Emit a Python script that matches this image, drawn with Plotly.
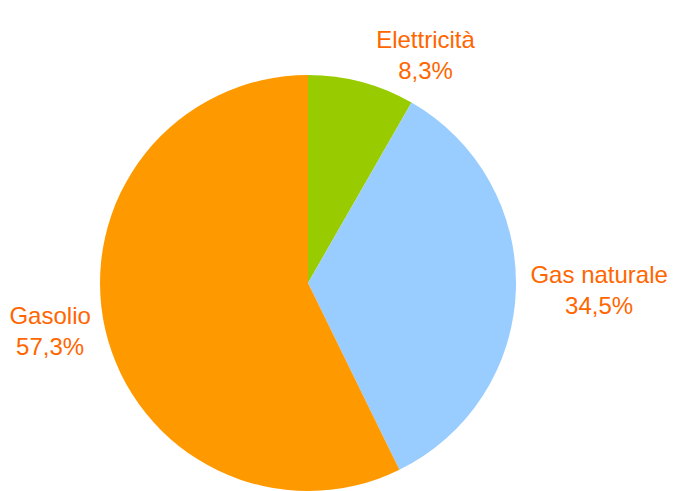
import plotly.graph_objects as go

labels = ["Elettricità", "Gas naturale", "Gasolio"]
values = [8.3, 34.5, 57.3]
colors = ["#99CC00", "#99CCFF", "#FF9900"]

W, H = 673, 491
cx = 308
half = 0.36
fig = go.Figure(go.Pie(
    labels=labels,
    values=values,
    sort=False,
    direction="clockwise",
    rotation=0,
    marker=dict(colors=colors, line=dict(width=0)),
    textposition="outside",
    texttemplate="%{label}<br>%{value:.1f}%",
    textfont=dict(color="#FF6600", size=24, family="Arial, Liberation Sans, sans-serif"),
    showlegend=False,
    hoverinfo="label+value",
    domain=dict(x=[cx / W - half, cx / W + half], y=[0, 1]),
    automargin=False,
))
fig.update_layout(
    width=W, height=H,
    margin=dict(l=0, r=0, t=75, b=0),
    separators=",.",
    paper_bgcolor="white",
    plot_bgcolor="white",
    font=dict(family="Arial, Liberation Sans, sans-serif"),
)
fig.write_html(
    "out.html",
    config={"displayModeBar": False},
    post_script="document.body.style.margin='0';document.body.style.overflow='hidden';",
)
